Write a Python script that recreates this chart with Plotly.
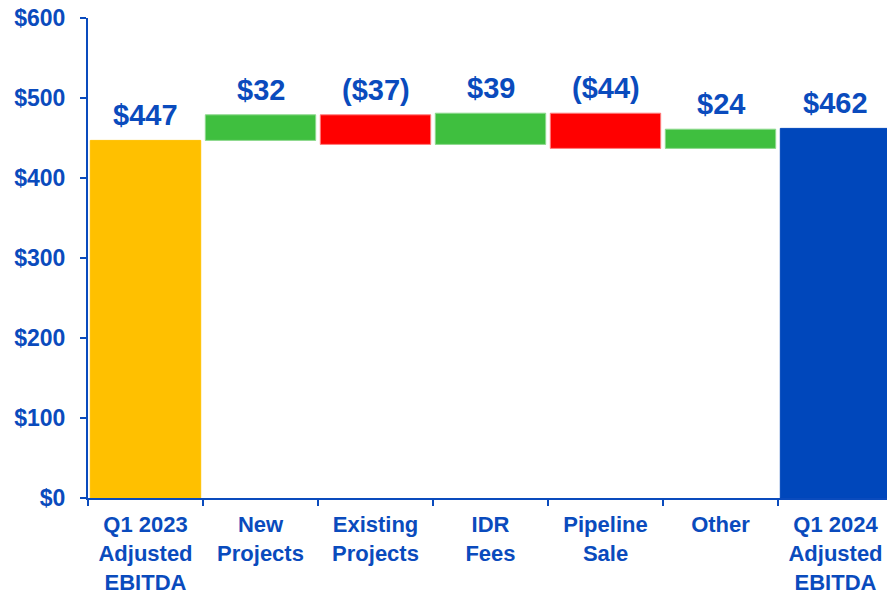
import plotly.graph_objects as go

categories = ["Q1 2023<br>Adjusted<br>EBITDA", "New<br>Projects", "Existing<br>Projects",
              "IDR<br>Fees", "Pipeline<br>Sale", "Other", "Q1 2024<br>Adjusted<br>EBITDA"]
values = [447, 32, -37, 39, -44, 24, 462]
kinds = ["total", "delta", "delta", "delta", "delta", "delta", "total"]
bar_colors = ["#FFC000", "#3FBF3F", "#FF0000", "#3FBF3F", "#FF0000", "#3FBF3F", "#0047BB"]
line_colors = ["#FFC000", "#8FD98F", "#FF7F7F", "#8FD98F", "#FF7F7F", "#8FD98F", "#0047BB"]
y_ticks = [0, 100, 200, 300, 400, 500, 600]
y_tick_labels = ["$0", "$100", "$200", "$300", "$400", "$500", "$600"]

TEXT = "#0A4BBD"
FONT = "Arial, Liberation Sans, sans-serif"

bases, heights, tops, labels = [], [], [], []
running = 0
for v, k in zip(values, kinds):
    if k == "total":
        bases.append(0)
        heights.append(v)
        running = v
        tops.append(v)
    else:
        bases.append(running)
        heights.append(v)
        tops.append(max(running, running + v))
        running += v
    labels.append(f"${v}" if v >= 0 else f"(${-v})")

fig = go.Figure()
fig.add_trace(go.Bar(
    x=categories, y=heights, base=bases,
    marker=dict(color=bar_colors, line=dict(color=line_colors, width=1)),
    hoverinfo="skip",
))
for c, t, lab in zip(categories, tops, labels):
    fig.add_annotation(x=c, y=t, text=lab, showarrow=False, yanchor="bottom", yshift=7,
                       font=dict(family=FONT, size=29, color=TEXT, weight="bold"))

fig.update_layout(
    width=893, height=591,
    margin=dict(l=88, r=0, t=18, b=93),
    plot_bgcolor="white", paper_bgcolor="white",
    showlegend=False, bargap=0.04,
    font=dict(family=FONT, size=22, color=TEXT, weight="bold"),
)
fig.update_yaxes(range=[0, 600], tickvals=y_ticks, ticktext=y_tick_labels, showgrid=False,
                 zeroline=False, automargin=False,
                 showline=True, linecolor="#0A4BBD", linewidth=2, ticks="outside", ticklen=6,
                 tickwidth=2, tickcolor="#0A4BBD", ticklabelstandoff=10,
                 tickfont=dict(family=FONT, size=23, color=TEXT, weight="bold"))
fig.update_xaxes(showgrid=False, showline=True, linecolor="#0A4BBD", linewidth=2, automargin=False,
                 ticks="outside", tickson="boundaries", ticklen=6, tickwidth=2, tickcolor="#0A4BBD",
                 range=[-0.5, 6.5], ticklabelstandoff=6,
                 tickfont=dict(family=FONT, size=22, color=TEXT, weight="bold"))

fig.write_html("out.html", config={"displayModeBar": False},
               post_script="document.body.style.margin='0';document.body.style.overflow='hidden';")
